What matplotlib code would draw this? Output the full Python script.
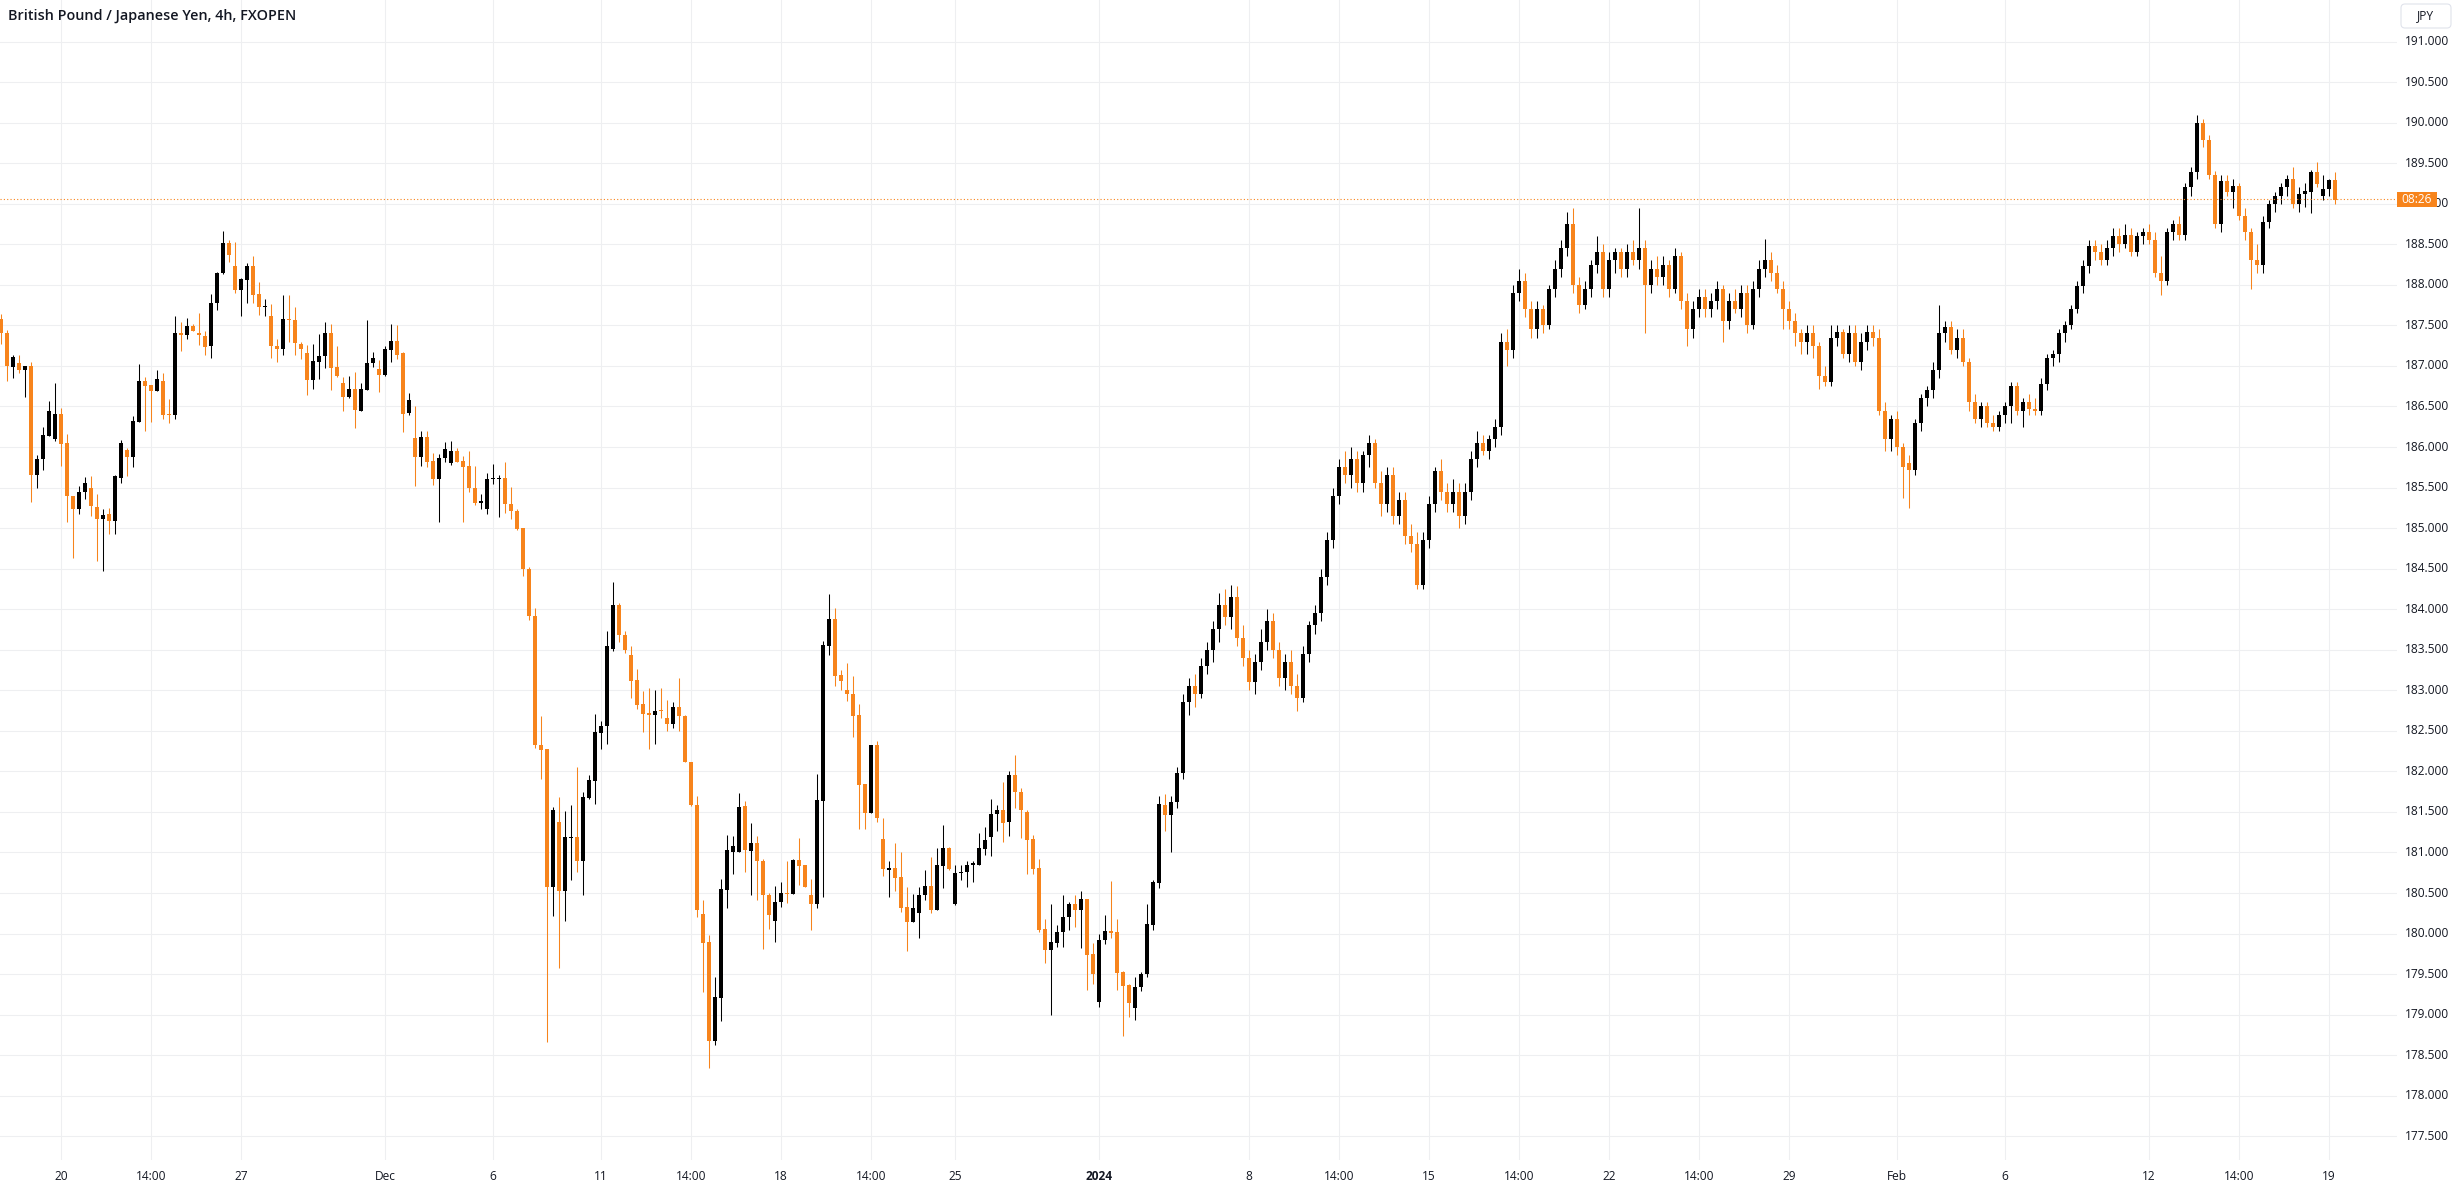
import numpy as np
import matplotlib
matplotlib.use('Agg')
import matplotlib.pyplot as plt
from matplotlib.patches import FancyBboxPatch, Rectangle
from matplotlib.transforms import blended_transform_factory

# GBPJPY 4h candles, index = candle number from left
opens = [
    187.58, 187.41, 186.99, 187.03, 186.95, 187.00, 185.65, 185.85, 186.14, 186.10,
    186.41, 186.05, 185.40, 185.23, 185.44, 185.50, 185.26, 185.11, 185.18, 185.09,
    185.62, 185.96, 185.88, 186.31, 186.81, 186.77, 186.69, 186.82, 186.41, 186.40,
    187.41, 187.38, 187.49, 187.41, 187.37, 187.24, 187.77, 188.14, 188.52, 188.23,
    187.93, 188.06, 188.23, 187.89, 187.73, 187.62, 187.25, 187.21, 187.58, 187.57,
    187.27, 187.16, 186.83, 187.05, 187.12, 187.41, 186.99, 186.79, 186.62, 186.72,
    186.45, 186.70, 187.03, 186.96, 186.89, 187.20, 187.31, 187.16, 186.42, 186.11,
    185.88, 186.12, 185.83, 185.61, 185.86, 185.80, 185.95, 185.83, 185.76, 185.50,
    185.31, 185.23, 185.60, 185.60, 185.62, 185.30, 185.21, 185.00, 184.49, 183.91,
    182.33, 182.27, 180.57, 181.38, 180.52, 181.18, 181.19, 180.90, 181.67, 181.88,
    182.47, 182.56, 183.51, 184.05, 183.68, 183.44, 183.13, 182.83, 182.72, 182.69,
    182.75, 182.66, 182.58, 182.80, 182.68, 182.12, 181.59, 180.24, 179.90, 178.68,
    179.21, 180.54, 181.00, 181.00, 181.57, 181.02, 181.12, 180.90, 180.48, 180.16,
    180.39, 180.50, 180.49, 180.91, 180.84, 180.48, 180.36, 181.64, 183.55, 183.88,
    183.19, 183.00, 182.96, 182.69, 181.84, 181.49, 182.33, 181.17, 180.79, 180.81,
    180.70, 180.33, 180.14, 180.25, 180.47, 180.59, 180.29, 180.83, 181.05, 180.37,
    180.75, 180.76, 180.85, 180.85, 181.04, 181.19, 181.47, 181.52, 181.37, 181.95,
    181.75, 181.50, 181.17, 180.81, 180.06, 179.80, 179.89, 180.02, 180.20, 180.36,
    180.29, 180.43, 179.75, 179.16, 179.92, 180.03, 180.02, 179.53, 179.36, 179.08,
    179.34, 179.50, 180.11, 180.62, 181.59, 181.46, 181.62, 181.98, 182.85, 183.05,
    182.95, 183.30, 183.50, 183.75, 184.05, 183.90, 184.15, 183.65, 183.40, 183.10,
    183.35, 183.60, 183.85, 183.50, 183.15, 183.35, 183.05, 182.90, 183.45, 183.80,
    183.95, 184.40, 184.85, 185.40, 185.75, 185.65, 185.85, 185.55, 185.90, 186.05,
    185.55, 185.30, 185.65, 185.15, 185.35, 184.90, 184.80, 184.30, 184.85, 185.30,
    185.70, 185.45, 185.30, 185.45, 185.15, 185.45, 185.85, 186.05, 185.95, 186.10,
    186.25, 187.30, 187.20, 187.90, 188.05, 187.70, 187.45, 187.70, 187.50, 187.95,
    188.20, 188.45, 188.75, 188.00, 187.75, 187.95, 188.25, 188.40, 187.95, 188.30,
    188.40, 188.20, 188.40, 188.30, 188.45, 188.00, 188.20, 188.10, 188.25, 187.95,
    188.35, 187.80, 187.45, 187.70, 187.85, 187.70, 187.80, 187.95, 187.55, 187.80,
    187.70, 187.90, 187.50, 187.95, 188.20, 188.30, 188.15, 187.95, 187.70, 187.55,
    187.40, 187.30, 187.40, 187.25, 186.88, 186.80, 187.35, 187.42, 187.15, 187.40,
    187.05, 187.30, 187.42, 187.35, 186.45, 186.10, 186.35, 186.00, 185.80, 185.72,
    186.30, 186.60, 186.70, 186.95, 187.40, 187.48, 187.20, 187.35, 187.05, 186.55,
    186.35, 186.50, 186.30, 186.25, 186.40, 186.50, 186.75, 186.45, 186.55, 186.47,
    186.45, 186.78, 187.10, 187.15, 187.40, 187.50, 187.70, 187.98, 188.23, 188.48,
    188.40, 188.30, 188.45, 188.60, 188.50, 188.62, 188.40, 188.60, 188.65, 188.55,
    188.15, 188.05, 188.65, 188.75, 188.62, 189.20, 189.39, 190.00, 189.78, 189.35,
    188.75, 189.28, 189.15, 189.22, 188.85, 188.65, 188.30, 188.25, 188.78, 189.00,
    189.10, 189.20, 189.30, 189.00, 189.12, 189.15, 189.39, 189.10, 189.18, 189.29,
]
highs = [
    187.64, 187.44, 187.14, 187.13, 187.00, 187.05, 185.90, 186.25, 186.57, 186.79,
    186.48, 186.16, 185.40, 185.52, 185.63, 185.64, 185.42, 185.23, 185.25, 185.65,
    186.09, 185.99, 186.38, 187.02, 186.86, 186.77, 186.95, 186.91, 186.59, 187.61,
    187.54, 187.59, 187.52, 187.65, 187.43, 187.89, 188.16, 188.66, 188.55, 188.53,
    188.09, 188.27, 188.36, 188.04, 187.83, 187.76, 187.33, 187.88, 187.88, 187.73,
    187.30, 187.26, 187.27, 187.39, 187.54, 187.52, 187.24, 186.86, 186.88, 186.93,
    186.79, 187.57, 187.17, 187.07, 187.25, 187.52, 187.50, 187.17, 186.66, 186.50,
    186.20, 186.20, 185.93, 185.91, 186.06, 186.08, 185.99, 185.89, 185.95, 185.77,
    185.42, 185.68, 185.79, 185.66, 185.81, 185.51, 185.24, 185.00, 184.52, 184.02,
    182.68, 182.27, 181.56, 181.68, 181.51, 181.59, 182.06, 181.75, 181.96, 182.71,
    182.62, 183.73, 184.34, 184.08, 183.73, 183.55, 183.26, 182.99, 183.03, 183.00,
    183.03, 182.88, 182.86, 183.15, 182.70, 182.12, 181.70, 180.41, 179.98, 179.46,
    180.67, 181.22, 181.20, 181.73, 181.64, 181.36, 181.20, 180.92, 180.50, 180.59,
    180.64, 180.90, 180.92, 181.18, 180.85, 180.67, 181.97, 183.61, 184.19, 184.02,
    183.25, 183.34, 183.18, 182.83, 181.85, 182.33, 182.37, 181.43, 180.90, 181.12,
    181.00, 180.58, 180.49, 180.57, 180.79, 180.94, 181.06, 181.34, 181.07, 180.84,
    180.84, 180.89, 180.90, 181.24, 181.31, 181.66, 181.59, 181.87, 182.00, 182.20,
    181.80, 181.52, 181.21, 180.92, 180.18, 180.37, 180.10, 180.47, 180.39, 180.47,
    180.53, 180.43, 179.88, 179.99, 180.23, 180.65, 180.18, 179.54, 179.38, 179.47,
    179.53, 180.36, 180.66, 181.70, 181.72, 181.70, 182.05, 182.95, 183.15, 183.20,
    183.40, 183.60, 183.85, 184.20, 184.25, 184.30, 184.28, 183.80, 183.50, 183.45,
    183.75, 184.00, 183.95, 183.60, 183.45, 183.50, 183.20, 183.55, 183.85, 184.05,
    184.50, 184.95, 185.50, 185.85, 185.95, 186.00, 185.95, 185.95, 186.15, 186.10,
    185.70, 185.75, 185.75, 185.45, 185.45, 185.05, 184.95, 184.95, 185.40, 185.75,
    185.85, 185.55, 185.60, 185.55, 185.55, 185.95, 186.20, 186.15, 186.15, 186.35,
    187.40, 187.45, 188.00, 188.20, 188.15, 187.80, 187.80, 187.75, 188.00, 188.30,
    188.55, 188.90, 188.95, 188.10, 188.05, 188.30, 188.60, 188.50, 188.40, 188.45,
    188.45, 188.50, 188.55, 188.95, 188.55, 188.30, 188.35, 188.35, 188.30, 188.45,
    188.40, 187.90, 187.80, 187.95, 187.95, 187.90, 188.05, 188.00, 187.90, 187.95,
    188.00, 188.00, 188.05, 188.30, 188.56, 188.40, 188.25, 188.05, 187.80, 187.65,
    187.45, 187.50, 187.50, 187.30, 187.00, 187.50, 187.50, 187.45, 187.50, 187.50,
    187.40, 187.50, 187.50, 187.45, 186.55, 186.40, 186.45, 186.05, 185.90, 186.35,
    186.65, 186.75, 187.05, 187.75, 187.55, 187.55, 187.45, 187.45, 187.10, 186.65,
    186.55, 186.55, 186.40, 186.45, 186.55, 186.80, 186.80, 186.60, 186.65, 186.60,
    186.85, 187.15, 187.20, 187.45, 187.55, 187.75, 188.05, 188.30, 188.55, 188.55,
    188.50, 188.55, 188.70, 188.70, 188.75, 188.70, 188.65, 188.70, 188.75, 188.65,
    188.35, 188.70, 188.80, 188.85, 189.25, 189.45, 190.10, 190.05, 189.85, 189.40,
    189.35, 189.35, 189.30, 189.25, 188.95, 188.70, 188.50, 188.85, 189.05, 189.15,
    189.25, 189.35, 189.45, 189.20, 189.26, 189.41, 189.51, 189.35, 189.31, 189.39,
]
lows = [
    187.27, 186.82, 186.85, 186.91, 186.62, 185.32, 185.50, 185.72, 186.14, 186.07,
    185.76, 185.08, 184.63, 185.18, 185.36, 185.15, 184.59, 184.47, 184.93, 184.93,
    185.56, 185.64, 185.75, 186.31, 186.20, 186.31, 186.69, 186.35, 186.29, 186.34,
    187.18, 187.33, 187.43, 187.26, 187.13, 187.10, 187.69, 188.13, 188.28, 187.90,
    187.61, 187.77, 187.77, 187.63, 187.62, 187.10, 187.05, 187.13, 187.29, 187.14,
    187.08, 186.64, 186.72, 186.84, 186.98, 186.70, 186.86, 186.44, 186.61, 186.24,
    186.45, 186.70, 186.99, 186.68, 186.87, 187.05, 187.09, 186.19, 186.39, 185.52,
    185.77, 185.75, 185.53, 185.07, 185.81, 185.78, 185.81, 185.07, 185.45, 185.28,
    185.23, 185.18, 185.54, 185.14, 185.19, 185.11, 184.98, 184.41, 183.87, 182.29,
    181.91, 178.66, 180.22, 179.57, 180.15, 180.66, 180.76, 180.48, 181.66, 181.60,
    182.27, 182.34, 183.49, 183.60, 183.46, 182.91, 182.77, 182.49, 182.28, 182.34,
    182.66, 182.50, 182.53, 182.50, 182.11, 181.57, 180.20, 179.28, 178.34, 178.63,
    178.92, 180.32, 180.73, 181.00, 180.76, 180.47, 180.42, 179.81, 180.06, 179.90,
    180.33, 180.38, 180.49, 180.60, 180.58, 180.05, 180.31, 180.45, 183.44, 183.05,
    183.00, 182.87, 182.43, 181.29, 181.29, 181.49, 181.37, 180.71, 180.45, 180.52,
    180.27, 179.79, 180.14, 179.95, 180.42, 180.25, 180.29, 180.56, 180.79, 180.35,
    180.66, 180.58, 180.64, 180.85, 180.97, 180.96, 181.27, 181.13, 181.20, 181.55,
    181.18, 180.73, 180.74, 180.02, 179.64, 179.00, 179.84, 179.83, 180.04, 180.08,
    179.82, 179.31, 179.38, 179.10, 179.87, 179.94, 179.30, 178.74, 178.97, 178.94,
    179.29, 179.46, 180.04, 180.56, 181.26, 181.01, 181.55, 181.90, 182.70, 182.80,
    182.90, 183.20, 183.35, 183.60, 183.80, 183.75, 183.55, 183.30, 183.00, 182.95,
    183.25, 183.50, 183.40, 183.05, 183.00, 182.95, 182.75, 182.85, 183.35, 183.70,
    183.85, 184.30, 184.75, 185.30, 185.55, 185.50, 185.45, 185.45, 185.75, 185.50,
    185.15, 185.20, 185.05, 185.05, 184.80, 184.70, 184.25, 184.25, 184.75, 185.20,
    185.35, 185.20, 185.20, 185.00, 185.05, 185.35, 185.75, 185.90, 185.85, 186.00,
    186.15, 187.00, 187.10, 187.80, 187.60, 187.35, 187.35, 187.40, 187.45, 187.85,
    188.10, 188.35, 187.90, 187.65, 187.70, 187.85, 188.15, 187.85, 187.85, 188.15,
    188.10, 188.10, 188.25, 188.20, 187.40, 187.90, 188.00, 188.00, 187.85, 187.90,
    187.70, 187.25, 187.35, 187.60, 187.60, 187.60, 187.70, 187.30, 187.45, 187.65,
    187.60, 187.40, 187.45, 187.85, 188.10, 188.05, 187.90, 187.45, 187.45, 187.25,
    187.15, 187.15, 187.10, 186.72, 186.75, 186.75, 187.25, 187.10, 187.05, 187.00,
    186.95, 187.20, 187.25, 186.40, 185.95, 185.95, 185.90, 185.37, 185.25, 185.65,
    186.20, 186.50, 186.60, 186.85, 187.30, 187.15, 187.10, 187.00, 186.45, 186.30,
    186.25, 186.25, 186.20, 186.20, 186.30, 186.30, 186.40, 186.25, 186.40, 186.40,
    186.40, 186.70, 187.00, 187.05, 187.30, 187.45, 187.65, 187.90, 188.15, 188.30,
    188.25, 188.25, 188.35, 188.40, 188.45, 188.35, 188.35, 188.50, 188.50, 188.10,
    187.88, 188.00, 188.55, 188.55, 188.55, 189.10, 189.30, 189.70, 189.30, 188.70,
    188.65, 189.10, 188.95, 188.80, 188.55, 187.95, 188.15, 188.15, 188.70, 188.90,
    189.00, 189.10, 188.95, 188.90, 188.96, 188.88, 189.20, 189.04, 189.10, 189.00,
]
closes = [
    187.41, 187.00, 187.11, 186.95, 187.00, 185.65, 185.85, 186.15, 186.45, 186.41,
    186.04, 185.39, 185.23, 185.45, 185.56, 185.27, 185.11, 185.16, 185.09, 185.64,
    186.05, 185.88, 186.32, 186.81, 186.75, 186.69, 186.84, 186.40, 186.39, 187.41,
    187.38, 187.49, 187.43, 187.38, 187.23, 187.78, 188.15, 188.52, 188.37, 187.93,
    188.07, 188.23, 187.88, 187.73, 187.74, 187.24, 187.21, 187.58, 187.56, 187.28,
    187.21, 186.83, 187.06, 187.12, 187.41, 186.98, 186.87, 186.62, 186.71, 186.46,
    186.71, 187.04, 187.10, 186.89, 187.21, 187.31, 187.14, 186.41, 186.58, 185.88,
    186.12, 185.82, 185.61, 185.86, 185.97, 185.95, 185.82, 185.75, 185.49, 185.31,
    185.34, 185.60, 185.61, 185.62, 185.30, 185.21, 184.99, 184.49, 183.91, 182.33,
    182.26, 180.57, 181.52, 180.52, 181.19, 181.19, 180.90, 181.68, 181.89, 182.48,
    182.56, 183.54, 184.05, 183.68, 183.50, 183.12, 182.82, 182.71, 182.69, 182.75,
    182.74, 182.58, 182.80, 182.68, 182.11, 181.58, 180.29, 179.89, 178.68, 179.22,
    180.55, 181.03, 181.08, 181.56, 181.03, 181.12, 180.89, 180.47, 180.23, 180.39,
    180.50, 180.49, 180.91, 180.83, 180.58, 180.36, 181.65, 183.56, 183.88, 183.18,
    183.12, 182.96, 182.68, 181.83, 181.49, 182.32, 181.42, 180.80, 180.81, 180.69,
    180.31, 180.14, 180.31, 180.47, 180.59, 180.29, 180.84, 181.06, 180.80, 180.75,
    180.76, 180.85, 180.87, 181.05, 181.15, 181.48, 181.52, 181.36, 181.95, 181.75,
    181.52, 181.16, 180.80, 180.05, 179.80, 179.90, 180.02, 180.21, 180.36, 180.29,
    180.43, 179.74, 179.50, 179.92, 180.03, 180.01, 179.52, 179.35, 179.15, 179.34,
    179.50, 180.12, 180.63, 181.60, 181.46, 181.62, 181.98, 182.85, 183.05, 182.95,
    183.30, 183.50, 183.75, 184.05, 183.90, 184.15, 183.65, 183.40, 183.10, 183.35,
    183.60, 183.85, 183.50, 183.15, 183.35, 183.05, 182.90, 183.45, 183.80, 183.95,
    184.40, 184.85, 185.40, 185.75, 185.65, 185.85, 185.55, 185.90, 186.05, 185.55,
    185.30, 185.65, 185.15, 185.35, 184.90, 184.80, 184.30, 184.85, 185.30, 185.70,
    185.45, 185.30, 185.45, 185.15, 185.45, 185.85, 186.05, 185.95, 186.10, 186.25,
    187.30, 187.20, 187.90, 188.05, 187.70, 187.45, 187.70, 187.50, 187.95, 188.20,
    188.45, 188.75, 188.00, 187.75, 187.95, 188.25, 188.40, 187.95, 188.30, 188.40,
    188.20, 188.40, 188.30, 188.45, 188.00, 188.20, 188.10, 188.25, 187.95, 188.35,
    187.80, 187.45, 187.70, 187.85, 187.70, 187.80, 187.95, 187.55, 187.80, 187.70,
    187.90, 187.50, 187.95, 188.20, 188.30, 188.15, 187.95, 187.70, 187.55, 187.40,
    187.30, 187.40, 187.25, 186.88, 186.80, 187.35, 187.42, 187.15, 187.40, 187.05,
    187.30, 187.42, 187.35, 186.45, 186.10, 186.35, 186.00, 185.75, 185.72, 186.30,
    186.60, 186.70, 186.95, 187.40, 187.48, 187.20, 187.35, 187.05, 186.55, 186.35,
    186.50, 186.30, 186.25, 186.40, 186.50, 186.75, 186.45, 186.55, 186.47, 186.45,
    186.78, 187.10, 187.15, 187.40, 187.50, 187.70, 187.98, 188.23, 188.48, 188.40,
    188.30, 188.45, 188.60, 188.50, 188.62, 188.40, 188.60, 188.65, 188.55, 188.15,
    188.05, 188.65, 188.75, 188.62, 189.20, 189.39, 190.00, 189.78, 189.35, 188.75,
    189.28, 189.15, 189.22, 188.85, 188.65, 188.30, 188.25, 188.78, 189.00, 189.10,
    189.20, 189.30, 189.00, 189.12, 189.16, 189.39, 189.24, 189.18, 189.29, 189.05,
]

# time axis labels, placed on the candle where they sit
tick_pos = [10, 25, 40, 64, 82, 100, 115, 130, 145, 159, 183, 208, 223, 238, 253,
            268, 283, 298, 316, 334, 358, 373, 388]
tick_labels = ['20', '14:00', '27', 'Dec', '6', '11', '14:00', '18', '14:00', '25',
               '2024', '8', '14:00', '15', '14:00', '22', '14:00', '29', 'Feb', '6',
               '12', '14:00', '19']
bold_labels = ['2024']

last_price = 189.054
countdown = '08:26'
title = 'British Pound / Japanese Yen, 4h, FXOPEN'

UP = '#000000'
DOWN = '#f7841c'
GRID = '#eeeff1'
TEXT = '#131722'
FONT = 'Open Sans'

W, H = 2455, 1191
fig = plt.figure(figsize=(W / 100, H / 100), dpi=100)
fig.patch.set_facecolor('white')

plot_w, plot_h = 2397, 1160
ax = fig.add_axes([0, (H - plot_h) / H, plot_w / W, plot_h / H])
ax.set_xlim(-1 / 6, (plot_w - 1) / 6)
ax.set_ylim(177.208, 191.512)
ax.axis('off')

# grid
prices = np.arange(177.5, 191.01, 0.5)
for p in prices:
    ax.axhline(p, color=GRID, lw=0.8, zorder=0)
for t in tick_pos:
    ax.axvline(t, color=GRID, lw=0.8, zorder=0)

# candles
o = np.array(opens)
h = np.array(highs)
l = np.array(lows)
c = np.array(closes)
x = np.arange(len(o))
cols = np.where(c < o, DOWN, UP)
body_lo = np.minimum(o, c)
body_h = np.maximum(np.abs(c - o), 0.013)
ax.vlines(x, l, h, colors=cols, lw=0.75, zorder=2)
ax.bar(x, body_h, bottom=body_lo, width=0.78, color=cols, lw=0, zorder=3)

# last price line
ax.axhline(last_price, color=DOWN, lw=0.8, ls=(0, (1, 2)), zorder=4)

# right price scale
ytr = blended_transform_factory(ax.transAxes, ax.transData)
for p in prices:
    ax.text(2405 / plot_w, p, f'{p:.3f}', transform=ytr, ha='left', va='center',
            fontsize=8.6, color=TEXT, family=FONT, clip_on=False)

ax.add_patch(Rectangle((1.0, last_price - 0.0925), 40 / plot_w, 0.185, transform=ytr,
                       color=DOWN, lw=0, clip_on=False, zorder=6))
ax.text((plot_w + 20) / plot_w, last_price, countdown, transform=ytr, ha='center',
        va='center', fontsize=8.6, color='white', family=FONT, clip_on=False, zorder=7)

# time axis
xtr = blended_transform_factory(ax.transData, fig.transFigure)
for t, lab in zip(tick_pos, tick_labels):
    ax.text(t, 1 - 1177 / H, lab, transform=xtr, ha='center', va='center',
            fontsize=8.6, color=TEXT, family=FONT, clip_on=False,
            weight='bold' if lab in bold_labels else 'normal')

# overlay in pixel units for title and currency box
ov = fig.add_axes([0, 0, 1, 1])
ov.set_xlim(0, W)
ov.set_ylim(H, 0)
ov.axis('off')
ov.text(8, 16, title, ha='left', va='center', fontsize=10.4, color=TEXT,
        family=FONT, weight='semibold')
ov.add_patch(FancyBboxPatch((2401, 4), 50, 24, boxstyle='round,pad=0,rounding_size=4',
                            fc='white', ec='#e0e3eb', lw=0.8))
ov.text(2426, 16, 'JPY', ha='center', va='center', fontsize=8.6, color=TEXT, family=FONT)

fig.savefig('out.png', dpi=100, facecolor='white')
